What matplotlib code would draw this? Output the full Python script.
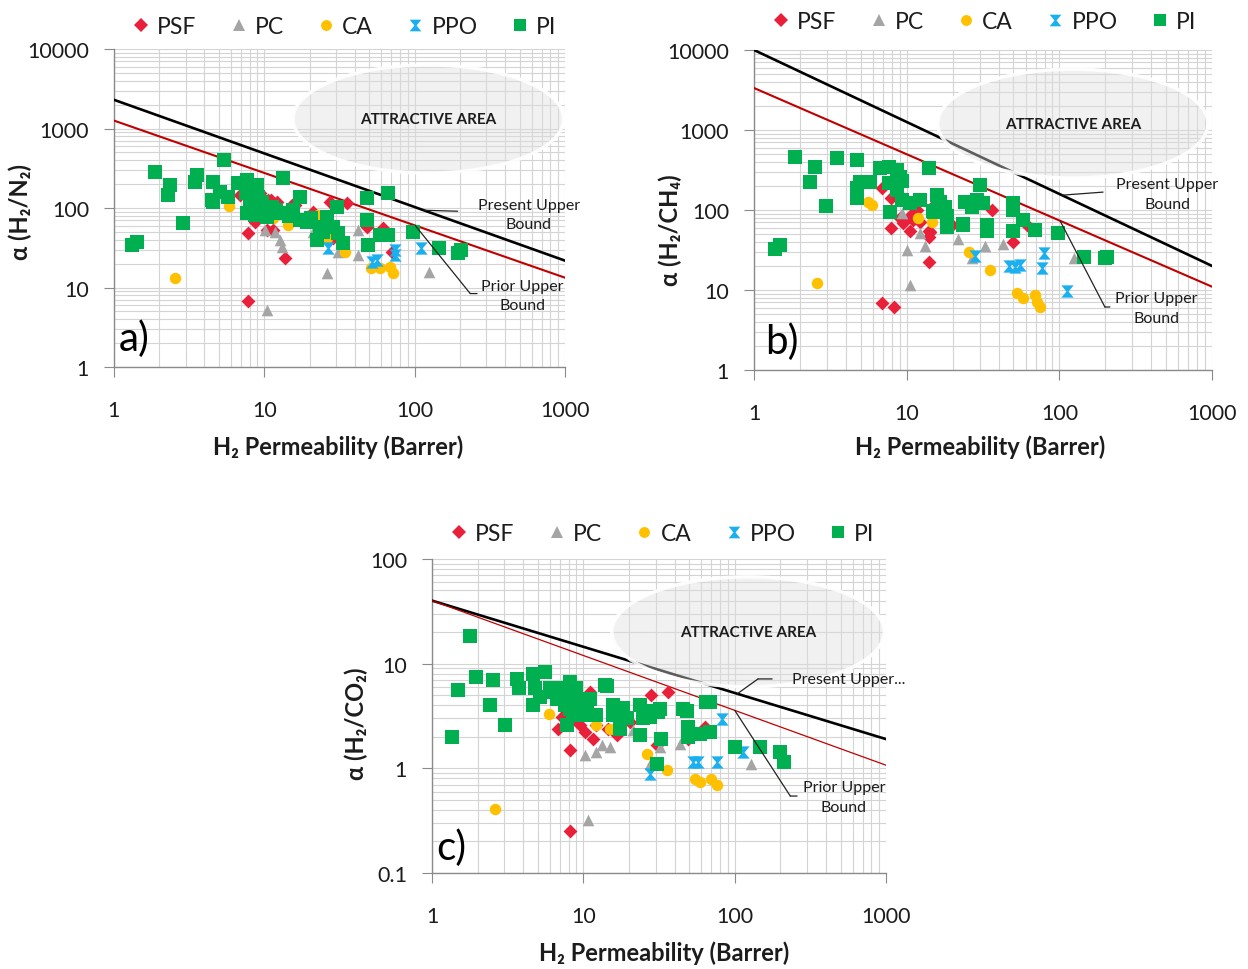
import numpy as np
import matplotlib
matplotlib.use('Agg')
import matplotlib.pyplot as plt
from matplotlib.path import Path
from matplotlib.patches import Ellipse
from matplotlib.ticker import FixedLocator, LogLocator, FuncFormatter, NullFormatter
from matplotlib.lines import Line2D

plt.rcParams['font.family'] = ['Lato', 'DejaVu Sans']

# ---------------- data ----------------
series_names = ['PSF', 'PC', 'CA', 'PPO', 'PI']
bound_p = [1, 1000]

# panel a: H2/N2
a_present = [2300, 21.8]
a_prior = [1260, 13.3]
a_psf_p = [6.9, 9.4, 10.6, 10.4, 7.8, 8.7, 11.5, 14.9, 13.8, 7.8, 19.3, 27.5, 35.6, 28.8, 48.4, 62, 71, 12.2, 9.0, 16, 21, 11, 15.4]
a_psf_a = [145, 154, 126, 53, 48.7, 67, 53, 100, 23.7, 6.7, 77, 119, 116, 42, 58, 56, 28, 119, 170, 110, 90, 126, 109]
a_pc_p = [10.1, 11.8, 12.8, 13.2, 10.4, 21.2, 26.2, 31, 42, 42, 124]
a_pc_a = [53, 50, 40, 32.6, 5.2, 50, 15.4, 28, 53, 25.9, 15.8]
a_ca_p = [2.55, 5.8, 14.4, 22.9, 26.2, 34.6, 51, 59, 69, 72, 11.5]
a_ca_a = [13.3, 105, 61, 82, 42, 28, 17.8, 17.8, 18.3, 15.4, 75]
a_ppo_p = [26.7, 52, 56, 74, 74, 110]
a_ppo_a = [31.6, 21, 22.4, 30, 26, 31.6]
a_pi_p = [1.88, 2.36, 2.29, 3.57, 3.47, 2.88, 1.32, 1.42, 5.41, 4.57, 4.5, 5.1, 5.75, 6.7, 7.7, 7.5, 9.0, 8.1, 7.7, 9.1,
          8.7, 10.4, 11.3, 13.4, 12.8, 15.6, 17.4, 17.4, 19.3, 23.6, 22.4, 26.2, 30.5, 24.7, 28.8, 31, 33.5, 48.4, 48.4, 49.3,
          59, 67, 67, 97, 145, 194, 203, 8.5, 9.6, 10.0, 8.0, 11.9, 14.5, 20.5, 4.57]
a_pi_a = [282, 193, 145, 259, 211, 65, 34.6, 37.6, 398, 211, 126, 158, 137, 205, 224, 154, 194, 102, 87, 137,
          82, 77, 102, 237, 87, 94, 137, 71, 67, 58, 40, 77, 102, 50, 58, 48, 36, 133, 71, 34.6,
          46, 46, 154, 50, 31.6, 27.4, 30, 170, 118, 100, 130, 95, 80, 75, 119]

# panel b: H2/CH4
b_present = [10000, 20]
b_prior = [3350, 11]
b_psf_p = [6.9, 7.9, 7.9, 9.5, 10.5, 13.9, 13.9, 11.6, 14.6, 19.7, 13.9, 6.9, 8.2, 36, 50, 61, 9.0, 11.0, 10.5, 12.2, 14.2]
b_psf_a = [186, 140, 59, 68, 54, 46, 54, 100, 110, 65, 22.6, 6.9, 6.2, 100, 40, 65, 80, 75, 84, 70, 53]
b_pc_p = [9.3, 10, 10.5, 12.2, 13.2, 21.8, 26.7, 32.6, 43, 124]
b_pc_a = [91, 31.6, 11.5, 51, 35, 44, 25, 35, 38, 25]
b_ca_p = [2.57, 5.6, 5.9, 11.9, 14.6, 25.4, 35, 53, 58, 69, 71, 75]
b_ca_a = [12.1, 127, 116, 79, 71, 30, 17.8, 9.1, 7.9, 8.7, 7.1, 6.2]
b_ppo_p = [28, 51, 55, 79, 77, 112, 47]
b_ppo_a = [27, 19.5, 20.5, 28.7, 18.6, 9.6, 20]
b_pi_p = [1.86, 1.37, 1.48, 2.51, 2.33, 2.96, 3.51, 4.7, 4.7, 4.7, 4.94, 5.6, 6.7, 7.6, 8.6, 9.0, 7.6, 8.6, 7.8, 9.3,
          10.5, 12.2, 13.9, 15.7, 16.1, 17.8, 18.3, 15, 18.3, 23.5, 24.1, 30.2, 28.8, 31.8, 33.4, 33.4, 50, 50, 58, 50,
          69, 98, 144, 200, 204, 14.9, 16.5, 23.4, 26.8, 9.3, 5.75]
b_pi_a = [464, 33, 36.5, 349, 226, 112, 442, 422, 186, 140, 226, 226, 331, 349, 316, 261, 215, 178, 95, 133,
          121, 133, 331, 154, 116, 110, 83, 95, 62, 65, 126, 206, 133, 121, 65, 54, 121, 100, 75, 54,
          56, 51.3, 26, 24.9, 26, 97, 125, 67, 108, 229, 222]

# panel c: H2/CO2
c_present = [40, 1.9]
c_prior = [40, 1.07]
c_psf_p = [11.1, 7.2, 6.8, 8.2, 9.5, 10.2, 12.2, 16.6, 8.2, 8.2, 11.6, 20.3, 28, 36.4, 30.5, 49.4, 63.7, 14.5]
c_psf_a = [5.4, 3.1, 2.4, 2.8, 2.57, 2.2, 2.57, 2.07, 1.49, 0.25, 1.92, 2.8, 5.0, 5.4, 1.66, 1.92, 2.48, 2.4]
c_pc_p = [10.3, 12.2, 13.2, 15, 10.8, 21.4, 32, 43.5, 27.6, 129]
c_pc_a = [1.33, 1.43, 1.66, 1.6, 0.32, 2.3, 1.6, 1.72, 1.1, 1.1]
c_ca_p = [2.6, 5.9, 12.2, 15, 26.2, 35.5, 54.7, 59, 70, 76]
c_ca_a = [0.41, 3.3, 2.57, 2.4, 1.38, 0.96, 0.79, 0.74, 0.79, 0.69]
c_ppo_p = [27.6, 53, 57.5, 76, 82, 114]
c_ppo_a = [0.89, 1.15, 1.15, 1.15, 2.98, 1.43]
c_pi_p = [1.36, 1.78, 1.49, 1.95, 2.53, 2.42, 3.04, 3.65, 3.76, 4.68, 5.6, 4.78, 5.2, 4.68, 6.0, 6.7, 7.4, 7.8, 8.2, 9.0,
          7.8, 8.6, 9.3, 10, 10.5, 11.1, 12.2, 13.9, 15.8, 17.5, 17.9, 19.3, 15.8, 23.7, 24.9, 23.7, 26.7, 31, 32.7, 30.5,
          45.8, 49.4, 49.4, 59, 69, 69, 100, 147, 200, 210, 7.6, 9.1, 9.9, 14.3, 18.3, 27.5, 32, 48.4, 65, 6.0, 8.2]
c_pi_a = [2.0, 18.4, 5.6, 7.5, 7.0, 4.0, 2.6, 7.1, 5.8, 8.0, 8.3, 5.8, 4.8, 4.0, 5.8, 4.6, 5.8, 4.3, 3.7, 5.8,
          2.57, 3.2, 4.0, 3.2, 4.0, 4.6, 3.2, 6.2, 4.0, 2.4, 3.7, 3.0, 3.2, 4.0, 3.0, 2.07, 3.55, 3.47, 1.92, 1.1,
          3.7, 2.48, 2.0, 2.14, 2.22, 4.3, 1.6, 1.6, 1.43, 1.15, 4.0, 4.3, 3.7, 6.1, 3.8, 3.1, 3.7, 3.5, 4.3, 5.4, 6.7]

x_ticks = [1, 10, 100, 1000]
ab_y_ticks = [1, 10, 100, 1000, 10000]
c_y_ticks = [0.1, 1, 10, 100]

# ---------------- styles ----------------
hourglass = Path([(-1, 1), (1, 1), (0.18, 0), (1, -1), (-1, -1), (-0.18, 0), (-1, 1)],
                 [Path.MOVETO, Path.LINETO, Path.LINETO, Path.LINETO, Path.LINETO, Path.LINETO, Path.CLOSEPOLY])
styles = {
    'PSF': dict(marker='D', color='#E8203A', s=50),
    'PC': dict(marker='^', color='#A5A5A5', s=70),
    'CA': dict(marker='o', color='#FFC000', s=68),
    'PPO': dict(marker=hourglass, color='#1AAFEF', s=78),
    'PI': dict(marker='s', color='#00B050', s=88),
}
TXT = '#1c1c1c'
fig = plt.figure(figsize=(12.48, 9.70), dpi=100)


def line_val(P, bound):
    return 10 ** np.interp(np.log10(P), np.log10(bound_p), np.log10(bound))


def panel(rect, series, present, prior, yticks, ylabel, letter, cfg):
    ax = fig.add_axes(rect)
    ax.set_xscale('log')
    ax.set_yscale('log')
    ax.set_xlim(x_ticks[0], x_ticks[-1])
    ax.set_ylim(yticks[0], yticks[-1])
    for name, (p, a) in zip(series_names, series):
        st = styles[name]
        ax.scatter(p, a, marker=st['marker'], c=st['color'], s=st['s'], linewidths=0, zorder=4, label=name)
    ax.plot(bound_p, present, color='black', lw=1.9, zorder=3)
    ax.plot(bound_p, prior, color='#C00000', lw=cfg['prior_lw'], zorder=3)
    ax.add_patch(Ellipse(cfg['ell_c'], cfg['ell_w'], cfg['ell_h'], transform=ax.transAxes,
                         facecolor=(0.87, 0.87, 0.87, 0.42), edgecolor=(1, 1, 1, 0.9), lw=2.5, zorder=3.5))
    ax.text(cfg['ell_c'][0], cfg['ell_c'][1], 'ATTRACTIVE AREA', transform=ax.transAxes, ha='center',
            va='center', fontsize=11, fontweight='bold', color=TXT, zorder=6)
    # grid / axes
    ax.xaxis.set_major_locator(FixedLocator(x_ticks))
    ax.yaxis.set_major_locator(FixedLocator(yticks))
    ax.xaxis.set_minor_locator(LogLocator(base=10, subs=np.arange(2, 10)))
    ax.yaxis.set_minor_locator(LogLocator(base=10, subs=np.arange(2, 10)))
    fmt = FuncFormatter(lambda v, _: f'{v:g}')
    ax.xaxis.set_major_formatter(fmt)
    ax.yaxis.set_major_formatter(fmt)
    ax.xaxis.set_minor_formatter(NullFormatter())
    ax.yaxis.set_minor_formatter(NullFormatter())
    ax.grid(True, which='both', color='#d4d4d4', lw=0.8, zorder=0)
    ax.set_axisbelow(True)
    for s in ('top', 'right'):
        ax.spines[s].set_visible(False)
    for s in ('left', 'bottom'):
        ax.spines[s].set_color('#8a8a8a')
        ax.spines[s].set_linewidth(1.0)
    ax.tick_params(which='minor', length=0)
    ax.tick_params(axis='y', which='major', length=7, color='#8a8a8a', pad=11, labelsize=15.5, labelcolor=TXT)
    ax.tick_params(axis='x', which='major', length=7, color='#8a8a8a', pad=17, labelsize=15.5, labelcolor=TXT)
    ax.set_xlabel('H\u2082 Permeability (Barrer)', fontsize=17, fontweight='bold', color=TXT)
    ax.xaxis.set_label_coords(cfg['xlab'][0], cfg['xlab'][1])
    ax.set_ylabel(ylabel, fontsize=17, fontweight='bold', color=TXT)
    ax.yaxis.set_label_coords(cfg['ylab'][0], cfg['ylab'][1])
    ax.text(cfg['letter'][0], cfg['letter'][1], letter, transform=ax.transAxes, fontsize=29,
            ha='left', va='center', color='black', zorder=6)
    # annotations
    lp = cfg['pres_p']
    ax.annotate('', xy=(lp, line_val(lp, present)), xycoords='data', xytext=cfg['pres_corner'],
                textcoords='axes fraction', arrowprops=dict(arrowstyle='-', color='#222222', lw=0.9,
                                                            shrinkA=0, shrinkB=0), zorder=5)
    if cfg.get('pres_end'):
        ax.annotate('', xy=cfg['pres_corner'], xycoords='axes fraction', xytext=cfg['pres_end'],
                    textcoords='axes fraction', arrowprops=dict(arrowstyle='-', color='#222222', lw=0.9,
                                                                shrinkA=0, shrinkB=0), zorder=5)
    ax.text(cfg['pres_txt'][0], cfg['pres_txt'][1], cfg['pres_label'], transform=ax.transAxes,
            ha=cfg.get('pres_ha', 'center'), va='center', fontsize=11.5, color=TXT, linespacing=1.5, zorder=6)
    qp = cfg['prior_p']
    ax.annotate('', xy=(qp, line_val(qp, prior)), xycoords='data', xytext=cfg['prior_corner'],
                textcoords='axes fraction', arrowprops=dict(arrowstyle='-', color='#222222', lw=0.9,
                                                            shrinkA=0, shrinkB=0), zorder=5)
    ax.annotate('', xy=cfg['prior_corner'], xycoords='axes fraction', xytext=cfg['prior_end'],
                textcoords='axes fraction', arrowprops=dict(arrowstyle='-', color='#222222', lw=0.9,
                                                            shrinkA=0, shrinkB=0), zorder=5)
    ax.text(cfg['prior_txt'][0], cfg['prior_txt'][1], 'Prior Upper\nBound', transform=ax.transAxes,
            ha='center', va='center', fontsize=11.5, color=TXT, linespacing=1.5, zorder=6)
    # legend
    handles = [Line2D([], [], ls='none', marker=styles[n]['marker'], color=styles[n]['color'],
                      markersize=np.sqrt(styles[n]['s']) * 0.95, markeredgewidth=0) for n in series_names]
    leg = ax.legend(handles, series_names, loc='center', bbox_to_anchor=cfg['leg'], ncol=5, frameon=False,
                    handlelength=0.8, handletextpad=0.3, columnspacing=1.45, fontsize=16.5, borderaxespad=0)
    for t in leg.get_texts():
        t.set_color(TXT)
    return ax


panel([0.0913, 0.6206, 0.3614, 0.3278],
      [(a_psf_p, a_psf_a), (a_pc_p, a_pc_a), (a_ca_p, a_ca_a), (a_ppo_p, a_ppo_a), (a_pi_p, a_pi_a)],
      a_present, a_prior, ab_y_ticks, '\u03b1 (H\u2082/N\u2082)', 'a)',
      dict(prior_lw=1.5, ell_c=(0.697, 0.78), ell_w=0.60, ell_h=0.34, xlab=(0.497, -0.212), ylab=(-0.182, 0.49),
           letter=(0.01, 0.09), pres_p=115, pres_corner=(0.762, 0.49), pres_end=None,
           pres_txt=(0.92, 0.48), pres_label='Present Upper\nBound',
           prior_p=101, prior_corner=(0.79, 0.231), prior_end=(0.805, 0.231), prior_txt=(0.905, 0.225),
           leg=(0.51, 1.072)))

panel([0.6042, 0.6175, 0.367, 0.3299],
      [(b_psf_p, b_psf_a), (b_pc_p, b_pc_a), (b_ca_p, b_ca_a), (b_ppo_p, b_ppo_a), (b_pi_p, b_pi_a)],
      b_present, b_prior, ab_y_ticks, '\u03b1 (H\u2082/CH\u2084)', 'b)',
      dict(prior_lw=1.5, ell_c=(0.696, 0.77), ell_w=0.59, ell_h=0.34, xlab=(0.493, -0.2), ylab=(-0.157, 0.44),
           letter=(0.025, 0.09), pres_p=104, pres_corner=(0.762, 0.556), pres_end=None,
           pres_txt=(0.902, 0.55), pres_label='Present Upper\nBound',
           prior_p=101, prior_corner=(0.766, 0.197), prior_end=(0.777, 0.197), prior_txt=(0.878, 0.194),
           leg=(0.502, 1.09)))

panel([0.3462, 0.099, 0.3638, 0.3237],
      [(c_psf_p, c_psf_a), (c_pc_p, c_pc_a), (c_ca_p, c_ca_a), (c_ppo_p, c_ppo_a), (c_pi_p, c_pi_a)],
      c_present, c_prior, c_y_ticks, '\u03b1 (H\u2082/CO\u2082)', 'c)',
      dict(prior_lw=0.9, ell_c=(0.696, 0.768), ell_w=0.6, ell_h=0.35, xlab=(0.511, -0.216), ylab=(-0.141, 0.48),
           letter=(0.01, 0.083), pres_p=104, pres_corner=(0.718, 0.618), pres_end=(0.749, 0.618),
           pres_txt=(0.792, 0.618), pres_ha='left', pres_label='Present Upper...',
           prior_p=100, prior_corner=(0.789, 0.245), prior_end=(0.804, 0.245), prior_txt=(0.907, 0.242),
           leg=(0.507, 1.08)))

fig.savefig('out.png', dpi=100)
